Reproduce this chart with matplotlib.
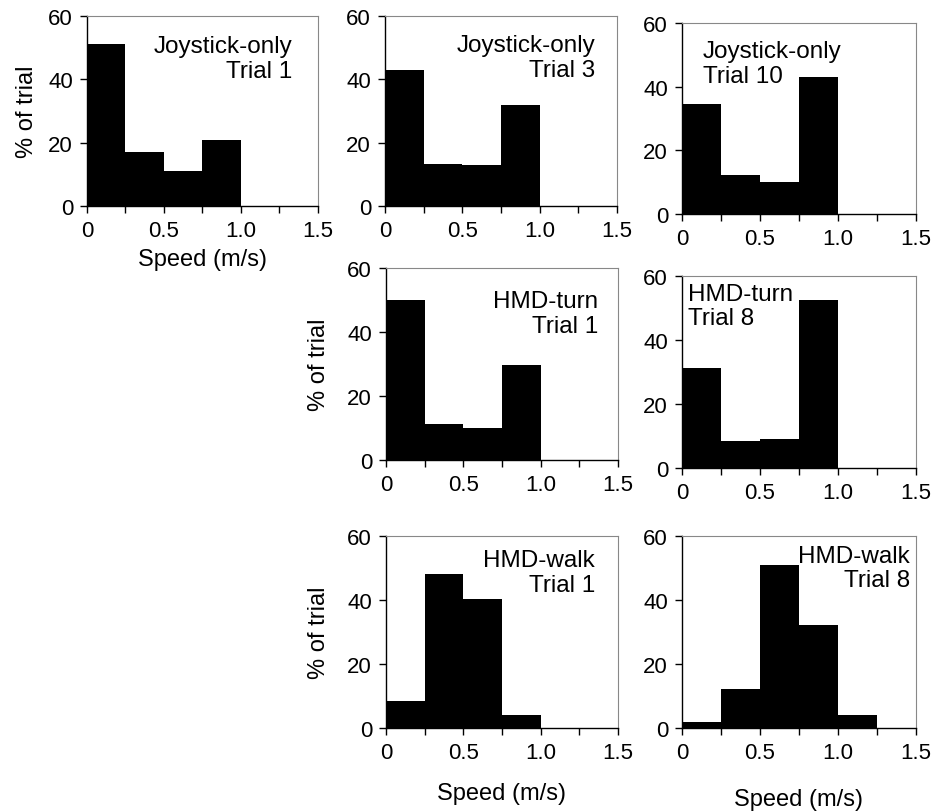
import matplotlib.pyplot as plt
from matplotlib.patches import Rectangle

plt.rcParams['font.family'] = ['Liberation Sans', 'DejaVu Sans']

# bin left edges (m/s), each bin 0.25 wide
bin_edges = [0.0, 0.25, 0.5, 0.75, 1.0, 1.25]

joy_t1 = [51.3, 17.2, 11.1, 20.9, 0, 0]
joy_t3 = [43.1, 13.3, 12.9, 31.8, 0, 0]
joy_t10 = [34.5, 12.1, 10.2, 43.1, 0, 0]
turn_t1 = [49.9, 11.1, 10.0, 29.6, 0, 0]
turn_t8 = [31.2, 8.3, 9.0, 52.4, 0, 0]
walk_t1 = [8.5, 48.0, 40.2, 4.1, 0, 0]
walk_t8 = [1.9, 12.3, 50.9, 32.3, 4.1, 0]

x_ticks = [0, 0.5, 1.0, 1.5]
x_ticklabels = ['0', '0.5', '1.0', '1.5']
y_ticks = [0, 20, 40, 60]

W, H = 937, 812


def px_axes(fig, x0, y0, x1, y1):
    return fig.add_axes([x0 / W, 1 - y1 / H, (x1 - x0) / W, (y1 - y0) / H])


def panel(ax, values, label, tx, ty, align, xpad=None, ypad=None):
    ax.bar(bin_edges, values, width=0.25, align='edge', color='black',
           linewidth=0, antialiased=False)
    ax.set_xlim(0, 1.5)
    ax.set_ylim(0, 60)
    ax.set_xticks(x_ticks)
    ax.set_xticklabels(x_ticklabels)
    ax.set_xticks([0.25, 0.75, 1.25], minor=True)
    ax.set_yticks(y_ticks)
    ax.tick_params(axis='both', which='both', direction='out', length=5,
                   width=1, pad=5, labelsize=16, top=False, right=False)
    for s in ('top', 'right'):
        ax.spines[s].set_color('#888888')
        ax.spines[s].set_linewidth(0.8)
    for s in ('left', 'bottom'):
        ax.spines[s].set_linewidth(1.0)
    ax.text(tx, ty, label, transform=ax.transAxes, ha=align, va='top',
            fontsize=17.5, linespacing=1.15)
    if xpad is not None:
        ax.set_xlabel('Speed (m/s)', fontsize=17, labelpad=xpad)
    if ypad is not None:
        ax.set_ylabel('% of trial', fontsize=17, labelpad=ypad)


fig = plt.figure(figsize=(W / 100, H / 100), dpi=100)

ax1 = px_axes(fig, 87, 17, 318, 207)
panel(ax1, joy_t1, 'Joystick-only\nTrial 1', 0.89, 0.90, 'right',
      xpad=5, ypad=7.5)
ax2 = px_axes(fig, 385, 17, 617, 207)
panel(ax2, joy_t3, 'Joystick-only\nTrial 3', 0.905, 0.905, 'right')
ax3 = px_axes(fig, 682, 24, 916, 215)
panel(ax3, joy_t10, 'Joystick-only\nTrial 10', 0.09, 0.91, 'left')
ax4 = px_axes(fig, 386, 269, 618, 461)
panel(ax4, turn_t1, 'HMD-turn\nTrial 1', 0.914, 0.885, 'right', ypad=12.5)
ax5 = px_axes(fig, 682, 277, 916, 469)
panel(ax5, turn_t8, 'HMD-turn\nTrial 8', 0.026, 0.965, 'left')
ax6 = px_axes(fig, 386, 537, 618, 729)
panel(ax6, walk_t1, 'HMD-walk\nTrial 1', 0.90, 0.93, 'right',
      xpad=14, ypad=12.5)
ax7 = px_axes(fig, 682, 537, 916, 729)
panel(ax7, walk_t8, 'HMD-walk\nTrial 8', 0.974, 0.955, 'right', xpad=18)

# the lower panel's frame hides the bottom of the HMD-turn tick labels
fig.patches.append(Rectangle((300 / W, 1 - 530 / H), 340 / W, 34 / H,
                             transform=fig.transFigure, facecolor='white',
                             edgecolor='none', zorder=5))

fig.savefig('out.png', dpi=100)
